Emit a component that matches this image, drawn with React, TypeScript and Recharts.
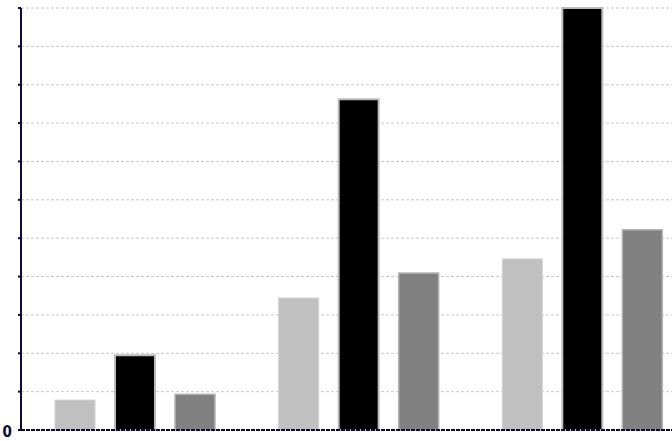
import React from 'react';
import { BarChart, Bar, XAxis, YAxis, CartesianGrid } from 'recharts';

const categories = ['A', 'B', 'C'];
const seriesLight = [0.78, 3.44, 4.46];
const seriesBlack = [1.95, 8.62, 11];
const seriesDark = [0.93, 4.09, 5.22];
const yTicks = [0, 1, 2, 3, 4, 5, 6, 7, 8, 9, 10, 11];

const data = categories.map((name, i) => ({
  name,
  light: seriesLight[i],
  black: seriesBlack[i],
  dark: seriesDark[i],
}));

const AXIS = '#0c0c2e';

const ZeroTick = ({ x, y, payload }: any) => {
  if (payload.value !== 0) return null;
  return (
    <text
      x={x - 4}
      y={y + 7}
      textAnchor="end"
      fontFamily="DejaVu Sans Condensed, DejaVu Sans"
      fontWeight="bold"
      fontSize={15}
      fill={AXIS}
    >
      0
    </text>
  );
};

export default function App() {
  return (
    <div style={{ position: 'absolute', left: 0, top: 0, width: 672, height: 441, overflow: 'hidden', background: '#fff' }}>
      <BarChart
        width={694}
        height={441}
        data={data}
        margin={{ top: 8, right: 0, bottom: 0, left: 0 }}
        barSize={40}
        barGap={20}
      >
        <CartesianGrid vertical={false} stroke="#c8c8c8" strokeDasharray="3 2" />
        <XAxis
          dataKey="name"
          height={11}
          padding={{ left: 2 }}
          tick={false}
          tickLine={false}
          axisLine={{ stroke: AXIS, strokeWidth: 2, strokeDasharray: '4 1' }}
        />
        <YAxis
          width={21}
          domain={[0, 11]}
          ticks={yTicks}
          interval={0}
          tick={<ZeroTick />}
          tickSize={3}
          tickLine={{ stroke: AXIS, strokeWidth: 2 }}
          axisLine={{ stroke: AXIS, strokeWidth: 2 }}
        />
        <Bar dataKey="light" fill="#c0c0c0" stroke="#d2d2d2" strokeWidth={1} isAnimationActive={false} />
        <Bar dataKey="black" fill="#000000" stroke="#bcbcbc" strokeWidth={2} isAnimationActive={false} />
        <Bar dataKey="dark" fill="#808080" stroke="#b4b4b4" strokeWidth={1.5} isAnimationActive={false} />
      </BarChart>
    </div>
  );
}
